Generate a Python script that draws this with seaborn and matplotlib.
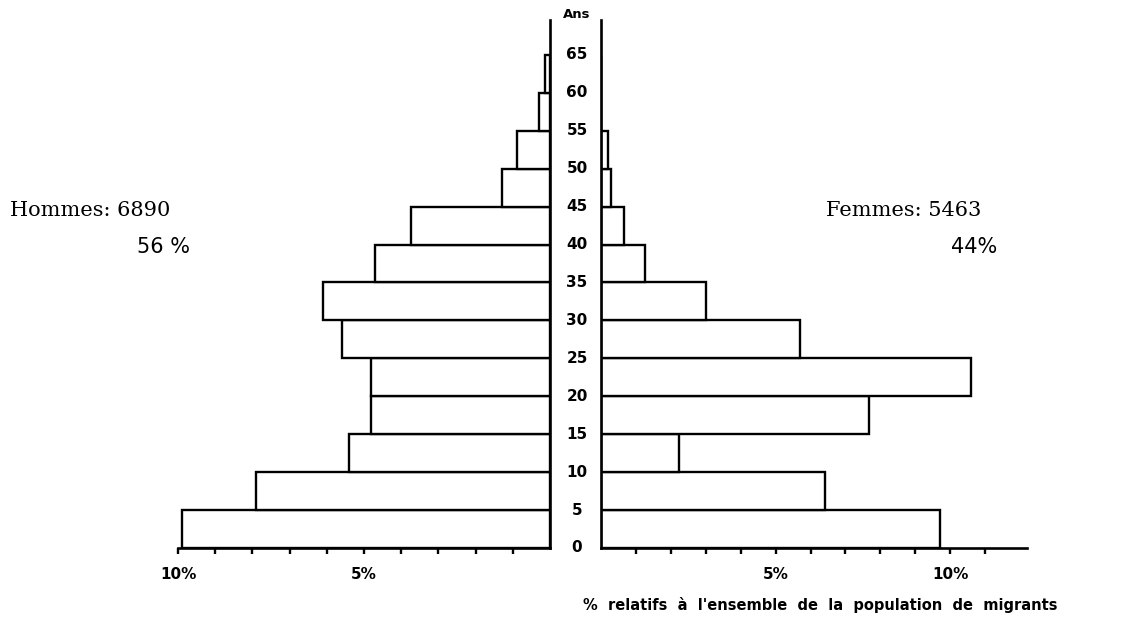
import numpy as np
import pandas as pd
import matplotlib
matplotlib.use("Agg")
import matplotlib.pyplot as plt
import seaborn as sns
from matplotlib.transforms import blended_transform_factory
from matplotlib.ticker import FixedLocator

# ---- data ----
age_start = [0, 5, 10, 15, 20, 25, 30, 35, 40, 45, 50, 55, 60]
age_labels = ["0", "5", "10", "15", "20", "25", "30", "35", "40", "45", "50", "55", "60", "65"]
hommes_pct = [9.9, 7.9, 5.4, 4.8, 4.8, 5.6, 6.1, 4.7, 3.75, 1.3, 0.9, 0.3, 0.13]
femmes_pct = [9.71, 6.42, 2.23, 7.68, 10.6, 5.70, 3.01, 1.26, 0.66, 0.29, 0.20, 0.0, 0.0]
x_tick_labels = ["5%", "10%"]

df = pd.DataFrame({
    "age_mid": [a + 2.5 for a in age_start],
    "hommes": hommes_pct,
    "femmes": femmes_pct,
})

sns.set_style("white")
plt.rcParams["font.family"] = ["DejaVu Sans"]
plt.rcParams["text.color"] = "black"
plt.rcParams["xtick.color"] = "black"
plt.rcParams["xtick.labelcolor"] = "black"

W, H = 1137, 631
fig = plt.figure(figsize=(W / 100, H / 100), dpi=100)

def fx(px):
    return px / W

def fy(py):
    return 1 - py / H

y_top = 69.6
ax_l = fig.add_axes([fx(178), fy(548), fx(550 - 178), (548 - 20) / H])
ax_r = fig.add_axes([fx(601), fy(548), fx(1027 - 601), (548 - 20) / H])

bar_kw = dict(orient="y", native_scale=True, width=1.0, color="white",
              saturation=1, edgecolor="black", linewidth=1.7)
sns.barplot(data=df, x="hommes", y="age_mid", ax=ax_l, **bar_kw)
sns.barplot(data=df, x="femmes", y="age_mid", ax=ax_r, **bar_kw)

ax_l.set_xlim(10.0, 0)
ax_r.set_xlim(0, 12.2)
for ax in (ax_l, ax_r):
    ax.set_ylim(0, y_top)
    ax.set_xlabel("")
    ax.set_ylabel("")
    ax.set_yticks([])
    ax.set_facecolor("none")
    for s in ax.spines.values():
        s.set_linewidth(1.9)
        s.set_color("black")
    ax.spines["top"].set_visible(False)
    ax.xaxis.set_major_locator(FixedLocator([5, 10]))
    ax.xaxis.set_minor_locator(FixedLocator([1, 2, 3, 4, 6, 7, 8, 9, 11]))
    ax.set_xticklabels(x_tick_labels, fontsize=11, fontweight="bold", color="black")
    ax.tick_params(axis="x", which="both", direction="out", bottom=True,
                   length=4, width=1.7, color="black", pad=10)

ax_l.spines["left"].set_visible(False)
ax_r.spines["right"].set_visible(False)

# age labels in the central gap
tr = blended_transform_factory(fig.transFigure, ax_l.transData)
for i, lab in enumerate(age_labels):
    ax_l.text(fx(577), i * 5, lab, transform=tr, ha="center", va="center",
              fontsize=11, fontweight="bold", color="black", clip_on=False)
fig.text(fx(577), fy(14), "Ans", ha="center", va="center",
         fontsize=9.5, fontweight="bold", color="black")

# side annotations
fig.text(fx(10), fy(210), "Hommes: 6890", ha="left", va="center",
         fontsize=15, family="DejaVu Serif", color="black")
fig.text(fx(190), fy(247), "56 %", ha="right", va="center", fontsize=15, color="black")
fig.text(fx(826), fy(210), "Femmes: 5463", ha="left", va="center",
         fontsize=15, family="DejaVu Serif", color="black")
fig.text(fx(997), fy(247), "44%", ha="right", va="center", fontsize=15, color="black")

fig.text(fx(583), fy(605),
         "%  relatifs  à  l'ensemble  de  la  population  de  migrants",
         ha="left", va="center", fontsize=10.5, fontweight="bold", color="black")

fig.savefig("out.png", dpi=100, facecolor="white")
